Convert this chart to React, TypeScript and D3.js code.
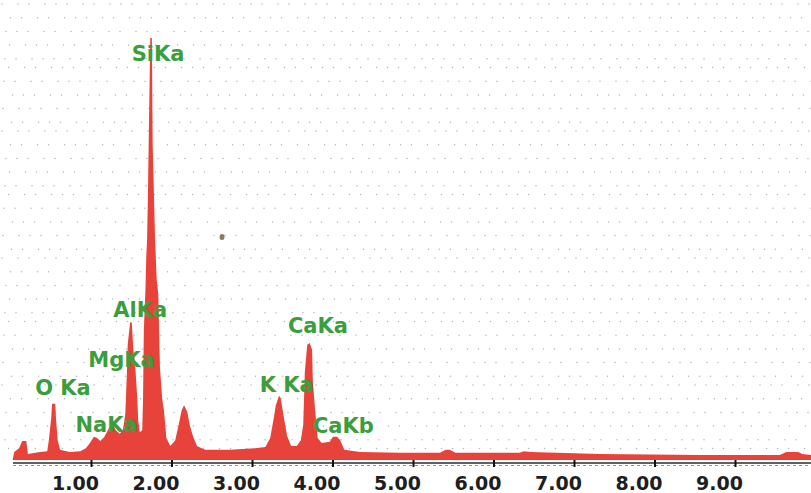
import React, { useEffect, useRef } from 'react';
import * as d3 from 'd3';

// spectrum: energy (keV) and counts (arbitrary, Si peak = 1000)
const energies = [
  0.02, 0.04, 0.10, 0.14, 0.19, 0.21, 0.36, 0.45, 0.47, 0.50, 0.51, 0.55, 0.56, 0.58, 0.61,
  0.73, 0.86, 0.93, 0.98, 1.03, 1.07, 1.11, 1.16, 1.19, 1.23, 1.27, 1.30, 1.35, 1.39, 1.42,
  1.44, 1.45, 1.48, 1.50, 1.52, 1.54, 1.57, 1.58, 1.60, 1.63, 1.64, 1.65, 1.67, 1.68, 1.69,
  1.70, 1.71, 1.73, 1.75, 1.76, 1.79, 1.81, 1.83, 1.85, 1.88, 1.90, 1.93, 1.98, 2.04, 2.09,
  2.12, 2.15, 2.19, 2.22, 2.26, 2.31, 2.41, 2.72, 3.03, 3.16, 3.22, 3.26, 3.29, 3.33, 3.35,
  3.39, 3.43, 3.48, 3.55, 3.60, 3.63, 3.65, 3.68, 3.71, 3.74, 3.75, 3.78, 3.81, 3.86, 3.96,
  4.00, 4.05, 4.09, 4.14, 4.34, 4.83, 5.33, 5.40, 5.45, 5.52, 6.32, 6.37, 6.45, 7.32, 8.56,
  9.55, 9.63, 9.78, 9.83, 9.94,
];
const counts = [
  0, 19, 28, 45, 45, 14, 19, 21, 47, 100, 133, 133, 95, 47, 24,
  19, 21, 28, 40, 55, 52, 45, 55, 66, 81, 83, 71, 62, 71, 109,
  209, 273, 327, 325, 261, 232, 142, 95, 66, 71, 142, 308, 403, 479, 521,
  616, 746, 1000, 1000, 746, 521, 427, 391, 220, 142, 118, 52, 33, 47, 90,
  118, 130, 114, 83, 57, 33, 24, 24, 28, 31, 52, 95, 130, 152, 147,
  100, 57, 33, 33, 47, 83, 209, 273, 277, 261, 185, 114, 52, 40, 43,
  55, 55, 47, 24, 19, 17, 17, 24, 24, 17, 17, 21, 19, 14, 12,
  12, 19, 19, 14, 12,
];

const peakNames = ['SiKa', 'AlKa', 'MgKa', 'O Ka', 'NaKa', 'K Ka', 'CaKa', 'CaKb'];
// where each label's text starts (keV) and its baseline (counts)
const peakLabelEnergy = [1.50, 1.27, 0.96, 0.30, 0.80, 3.09, 3.44, 3.75];
const peakLabelCount = [945, 339, 220, 154, 66, 161, 301, 64];

const tickValues = [1, 2, 3, 4, 5, 6, 7, 8, 9];

const W = 811;
const H = 493;

const App = () => {
  const ref = useRef<SVGSVGElement | null>(null);

  useEffect(() => {
    if (!ref.current) return;
    const svg = d3.select(ref.current);
    svg.selectAll('*').remove();

    const x = d3.scaleLinear().domain([0, 10]).range([11, 816]);
    const y = d3.scaleLinear().domain([0, 1000]).range([460, 38]);

    svg.append('rect').attr('width', W).attr('height', H).attr('fill', '#ffffff');

    // stippled background grid
    const dots: [number, number][] = [];
    d3.range(0, 36).forEach((r) => {
      d3.range(0, 64).forEach((c) => {
        const jx = ((r * 7 + c * 13) % 5) - 2;
        const jy = ((r * 11 + c * 5) % 5) - 2;
        dots.push([4 + c * 13 + (r % 2) * 6.5 + jx, 6 + r * 12.7 + jy]);
      });
    });
    svg.append('g')
      .selectAll('circle')
      .data(dots.filter((d) => d[1] < 458))
      .enter().append('circle')
      .attr('cx', (d) => d[0])
      .attr('cy', (d) => d[1])
      .attr('r', 0.75)
      .attr('fill', '#a7bac6');

    const pts = energies.map((e, i) => [e, counts[i]] as [number, number]);
    const area = d3.area<[number, number]>()
      .x((d) => x(d[0]))
      .y0(y(0))
      .y1((d) => y(d[1]))
      .curve(d3.curveLinear);

    svg.append('path')
      .datum(pts)
      .attr('d', area)
      .attr('fill', '#e8433b');

    // speck in the scan
    svg.append('ellipse')
      .attr('cx', 222).attr('cy', 237).attr('rx', 2.5).attr('ry', 3)
      .attr('fill', '#6b5a3a').attr('opacity', 0.8);

    // axis
    const axis = svg.append('g');
    axis.append('line')
      .attr('x1', 13).attr('x2', W)
      .attr('y1', 463).attr('y2', 463)
      .attr('stroke', '#2b2b2b').attr('stroke-width', 1.6);
    axis.append('line')
      .attr('x1', 13).attr('x2', W)
      .attr('y1', 465.5).attr('y2', 465.5)
      .attr('stroke', '#777').attr('stroke-width', 0.8)
      .attr('stroke-dasharray', '3 3');
    axis.selectAll('.tick')
      .data(tickValues)
      .enter().append('line')
      .attr('x1', (d) => x(d)).attr('x2', (d) => x(d))
      .attr('y1', 460).attr('y2', 467)
      .attr('stroke', '#111').attr('stroke-width', 2);
    axis.selectAll('.tl')
      .data(tickValues)
      .enter().append('text')
      .attr('x', (d) => x(d) - 16)
      .attr('y', 490)
      .attr('text-anchor', 'middle')
      .style('font-family', '"DejaVu Sans", sans-serif')
      .style('font-weight', 'bold')
      .style('font-size', '19px')
      .style('fill', '#1e1e1e')
      .text((d) => d.toFixed(2));

    svg.append('g')
      .selectAll('text')
      .data(peakNames)
      .enter().append('text')
      .attr('x', (_, i) => x(peakLabelEnergy[i]))
      .attr('y', (_, i) => y(peakLabelCount[i]))
      .style('font-family', '"DejaVu Sans", sans-serif')
      .style('font-weight', 'bold')
      .style('font-size', '21px')
      .style('fill', '#3a9e3c')
      .text((d) => d);
  }, []);

  return (
    <svg
      ref={ref}
      width={W}
      height={H}
      style={{ position: 'absolute', left: 0, top: 0, display: 'block' }}
    ></svg>
  );
};

export default App;
